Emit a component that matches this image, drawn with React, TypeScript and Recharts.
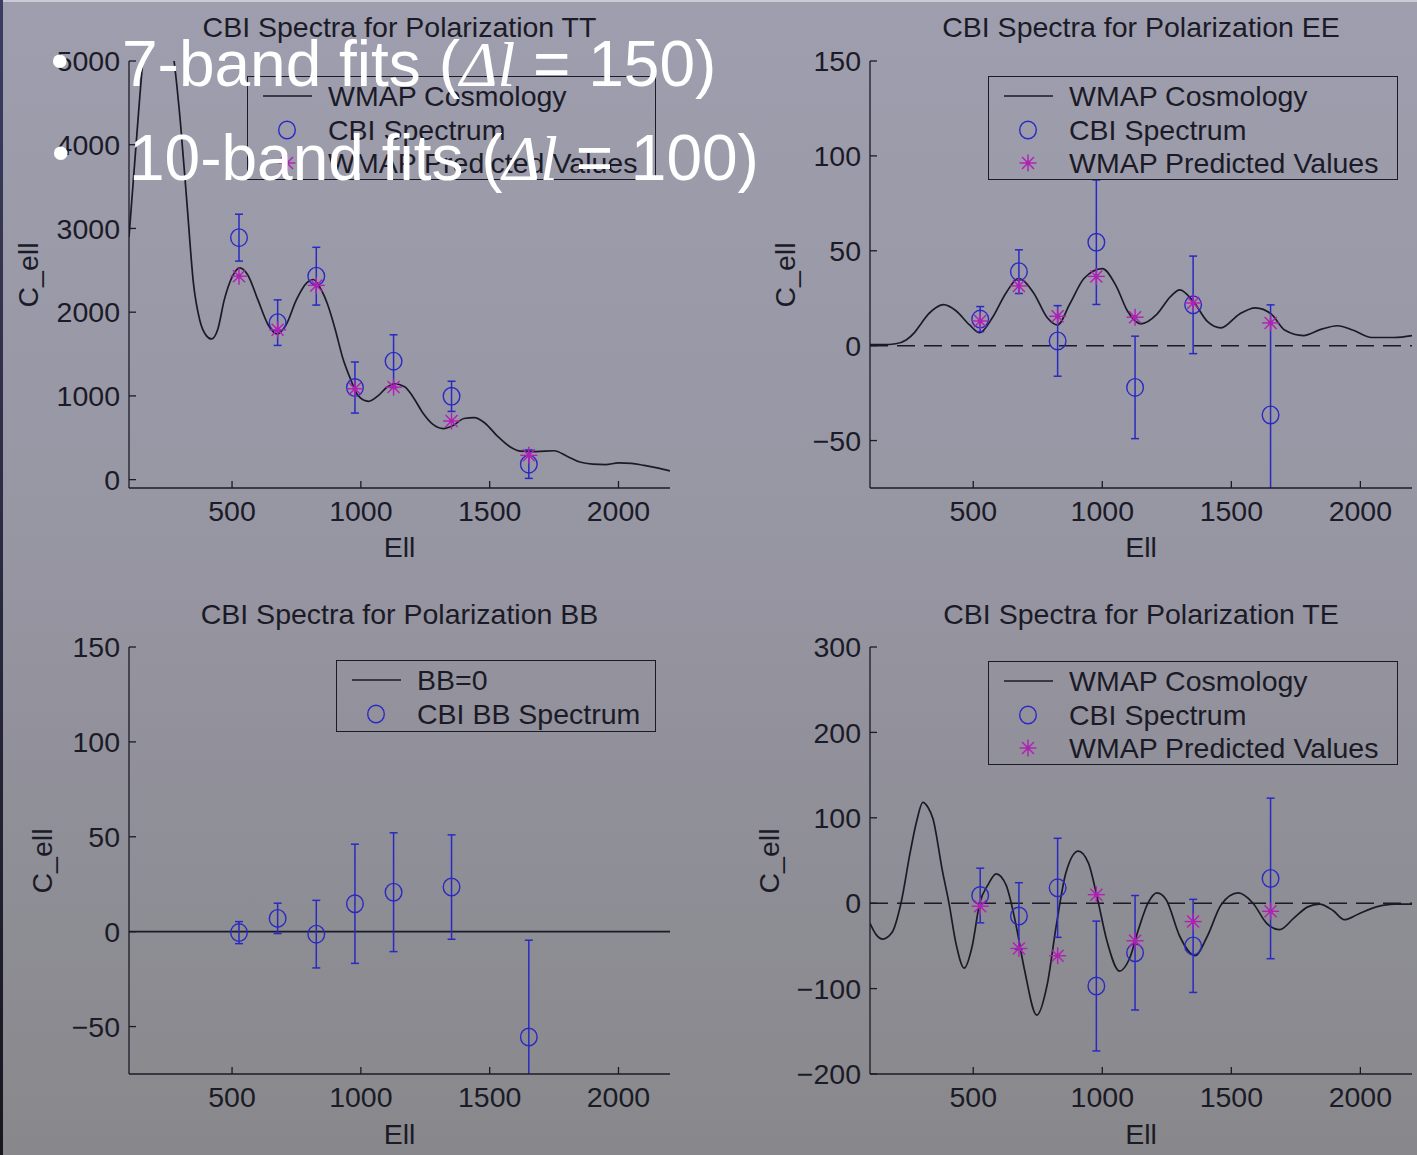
import React from "react";
import {
  ComposedChart,
  Line,
  Scatter,
  XAxis,
  YAxis,
  ErrorBar,
  ReferenceLine,
} from "recharts";

// band centres (7-band fits)
const ELL_BANDS = [527, 677, 827, 977, 1127, 1352, 1652];
const ELL_TICKS = [500, 1000, 1500, 2000];
const ELL_DOMAIN = [100, 2200];

// TT
const TT_CBI = [2890, 1875, 2430, 1100, 1415, 995, 185];
const TT_SIGMA = [280, 272, 345, 305, 315, 180, 170];
const TT_WMAP = [2430, 1790, 2320, 1085, 1105, 700, 290];
const TT_MODEL_ELL = [
  100, 120, 140, 160, 190, 220, 250, 275, 300, 325, 350, 375, 400, 420, 445,
  470, 500, 530, 560, 600, 640, 675, 710, 750, 790, 815, 840, 870, 900, 930,
  960, 990, 1030, 1070, 1100, 1130, 1170, 1200, 1240, 1280, 1320, 1360, 1400,
  1440, 1480, 1530, 1580, 1620, 1680, 1750, 1800, 1850, 1900, 1950, 2000, 2050,
  2100, 2150, 2200,
];
const TT_MODEL = [
  2900, 3700, 4500, 5200, 5600, 5750, 5500, 5000, 4250, 3300, 2350, 1900, 1720,
  1680, 1800, 2150, 2420, 2530, 2450, 2150, 1850, 1740, 1850, 2150, 2350, 2390,
  2300, 2100, 1800, 1450, 1200, 1000, 935, 1010, 1100, 1145, 1110, 1000, 800,
  660, 610, 650, 730, 740, 680, 520, 390, 340, 335, 345, 280, 210, 185, 180,
  200, 195, 170, 140, 105,
];
const TT_TICKS = [0, 1000, 2000, 3000, 4000, 5000];

// EE
const EE_CBI = [14, 39, 2.5, 54.5, -22, 21.5, -36.5];
const EE_SIGMA = [6.6, 11.5, 18.6, 32.8, 27, 25.7, 58];
const EE_WMAP = [13, 31.5, 15.5, 36.5, 15, 22.5, 12];
const EE_MODEL_ELL = [
  100, 150, 200, 240, 273, 300, 326, 355, 385, 433, 486, 525, 574, 627, 675,
  734, 787, 826, 875, 929, 1000, 1053, 1097, 1150, 1212, 1265, 1300, 1354, 1407,
  1460, 1531, 1593, 1655, 1708, 1779, 1850, 1911, 1973, 2044, 2132, 2200,
];
const EE_MODEL = [
  0.5, 0.5, 1, 3, 7, 12, 16.6, 20, 21.6, 18.4, 10.9, 6.8, 14.7, 27.8, 35.4,
  27.8, 14.7, 10.9, 22.2, 35.4, 40.6, 31.6, 18.4, 11.5, 16.6, 26, 29.4, 23.1,
  12.8, 9.4, 16.6, 19.9, 16.6, 8.1, 5.3, 8.7, 10.5, 8.1, 4.3, 4.3, 5.3,
];
const POL_TICKS = [-50, 0, 50, 100, 150];

// BB
const BB_CBI = [-0.5, 7, -1.3, 14.7, 20.8, 23.5, -55.5];
const BB_SIGMA = [5.8, 8, 17.8, 31.4, 31.3, 27.5, 51];
const BB_ZERO_ELL = [100, 2200];
const BB_ZERO = [0, 0];

// TE
const TE_CBI = [9, -15, 18, -97, -58, -50, 29];
const TE_SIGMA = [32, 39, 58, 76, 67, 54.5, 94];
const TE_WMAP = [-3.5, -53, -61.5, 10, -44, -21.5, -9.5];
const TE_MODEL_ELL = [
  100, 123, 149, 185, 220, 256, 280, 305, 325, 344, 380, 406, 433, 465, 495,
  525, 557, 589, 627, 663, 698, 746, 787, 822, 858, 907, 946, 982, 1017, 1067,
  1106, 1141, 1177, 1212, 1247, 1300, 1359, 1407, 1460, 1527, 1584, 1637, 1687,
  1743, 1796, 1841, 1894, 1938, 1991, 2062, 2132, 2200,
];
const TE_MODEL = [
  -23.6, -36.5, -42, -34.4, 0, 60, 95, 118, 112, 99, 38.7, 0, -47, -76, -51.6,
  0, 21.5, 34.4, 21.5, -21.5, -77, -131, -94.6, -25.8, 34.4, 61, 47.3, 4.3, -43,
  -79.5, -64.5, -30, 0, 12, 4.3, -38.7, -61.5, -38.7, -2, 12, 0, -23.6, -31,
  -17.2, -4.3, -1, -8.6, -19.3, -12.9, -4.3, -1, -1,
];
const TE_TICKS = [-200, -100, 0, 100, 200, 300];

const BLUE = "#2a2ac2";
const MAGENTA = "#b020b4";
const INK = "#1b1b27";
const FONT = '"Liberation Sans", Arial, Helvetica, sans-serif';
const FS = 28.5;

const PAD_L = 100;
const PAD_T = 20;

const pts = (xs: number[], ys: number[], sig?: number[]) =>
  xs.map((ell, i) => ({ ell, v: ys[i], sigma: sig ? sig[i] : 0 }));

const fmt = (v: number) => String(v).replace("-", "\u2212");

const CircleMark = (p: any) => (
  <ellipse cx={p.cx} cy={p.cy} rx={8.3} ry={8.8} fill="none" stroke={BLUE} strokeWidth={1.4} />
);

const StarMark = (p: any) => {
  const r = 8.5;
  const d = 6;
  return (
    <g stroke={MAGENTA} strokeWidth={1.4}>
      <line x1={p.cx - r} y1={p.cy} x2={p.cx + r} y2={p.cy} />
      <line x1={p.cx} y1={p.cy - r} x2={p.cx} y2={p.cy + r} />
      <line x1={p.cx - d} y1={p.cy - d} x2={p.cx + d} y2={p.cy + d} />
      <line x1={p.cx - d} y1={p.cy + d} x2={p.cx + d} y2={p.cy - d} />
      <circle cx={p.cx} cy={p.cy} r={2.4} fill={MAGENTA} stroke="none" />
    </g>
  );
};

const YTick = (p: any) => (
  <text x={p.x} y={p.payload.coordinate} dy="0.36em" textAnchor="end" fill={INK} fontSize={FS} fontFamily={FONT}>
    {fmt(p.payload.value)}
  </text>
);

const XTick = (p: any) => (
  <text x={p.payload.coordinate} y={p.y} dy="0.75em" textAnchor="middle" fill={INK} fontSize={FS} fontFamily={FONT}>
    {p.payload.value}
  </text>
);

type Box = { l: number; t: number; r: number; b: number };

interface PanelProps {
  id: string;
  box: Box;
  yDomain: number[];
  yTicks: number[];
  model?: { ell: number; v: number }[];
  cbi: { ell: number; v: number; sigma: number }[];
  wmap?: { ell: number; v: number }[];
  zero?: "dashed";
}

function Panel({ id, box, yDomain, yTicks, model, cbi, wmap, zero }: PanelProps) {
  const w = box.r - box.l + PAD_L + 10;
  const h = box.b - box.t + PAD_T + 60;
  const axisLine = { stroke: INK, strokeWidth: 1.3 };
  return (
    <div className={`panel-${id}`} style={{ position: "absolute", left: box.l - PAD_L, top: box.t - PAD_T }}>
      <svg width={0} height={0} style={{ position: "absolute" }}>
        <defs>
          <clipPath id={`eb-${id}`} clipPathUnits="userSpaceOnUse">
            <rect x={PAD_L} y={PAD_T} width={box.r - box.l} height={box.b - box.t} />
          </clipPath>
        </defs>
      </svg>
      <style>{`.panel-${id} .recharts-errorBars, .panel-${id} .recharts-errorBar { clip-path: url(#eb-${id}); }`}</style>
      <ComposedChart width={w} height={h} margin={{ top: PAD_T, right: 10, bottom: 10, left: 10 }}>
        <XAxis
          xAxisId="b"
          dataKey="ell"
          type="number"
          domain={ELL_DOMAIN}
          ticks={ELL_TICKS}
          allowDataOverflow
          height={50}
          axisLine={axisLine}
          tickLine={axisLine}
          tickSize={-7}
          tickMargin={19}
          tick={<XTick />}
        />
        <XAxis
          xAxisId="t"
          orientation="top"
          type="number"
          domain={ELL_DOMAIN}
          ticks={ELL_TICKS}
          allowDataOverflow
          height={0}
          axisLine={axisLine}
          tickLine={axisLine}
          tickSize={-7}
          tickFormatter={() => ""}
        />
        <YAxis
          yAxisId="l"
          dataKey="v"
          type="number"
          domain={yDomain}
          ticks={yTicks}
          allowDataOverflow
          width={90}
          axisLine={axisLine}
          tickLine={axisLine}
          tickSize={-7}
          tickMargin={16}
          tick={<YTick />}
        />
        <YAxis
          yAxisId="r"
          orientation="right"
          type="number"
          domain={yDomain}
          ticks={yTicks}
          allowDataOverflow
          width={0}
          axisLine={axisLine}
          tickLine={axisLine}
          tickSize={-7}
          tickFormatter={() => ""}
        />
        {zero === "dashed" && (
          <ReferenceLine xAxisId="b" yAxisId="l" y={0} stroke={INK} strokeWidth={1.5} strokeDasharray="18 9" />
        )}
        {model && (
          <Line
            xAxisId="b"
            yAxisId="l"
            data={model}
            dataKey="v"
            type="monotone"
            stroke={INK}
            strokeWidth={1.7}
            dot={false}
            isAnimationActive={false}
          />
        )}
        <Scatter xAxisId="b" yAxisId="l" data={cbi} dataKey="v" shape={CircleMark} isAnimationActive={false}>
          <ErrorBar
            dataKey="sigma"
            direction="y"
            width={4}
            stroke={BLUE}
            strokeWidth={1.5}
            clipPath={`url(#eb-${id})`}
          />
        </Scatter>
        {wmap && (
          <Scatter xAxisId="b" yAxisId="l" data={wmap} dataKey="v" shape={StarMark} isAnimationActive={false} />
        )}
      </ComposedChart>
    </div>
  );
}

const txt: React.CSSProperties = {
  position: "absolute",
  color: INK,
  fontFamily: FONT,
  fontSize: FS,
  lineHeight: 1,
  whiteSpace: "nowrap",
};

function Labels({ box, title, titleY, xLabY, yLabX }: { box: Box; title: string; titleY: number; xLabY: number; yLabX: number }) {
  const cx = (box.l + box.r) / 2;
  const cy = (box.t + box.b) / 2;
  return (
    <>
      <div style={{ ...txt, left: cx, top: titleY, transform: "translate(-50%,-50%)" }}>{title}</div>
      <div style={{ ...txt, left: cx, top: xLabY, transform: "translate(-50%,-50%)" }}>Ell</div>
      <div style={{ ...txt, left: yLabX, top: cy, transform: "translate(-50%,-50%) rotate(-90deg)" }}>C_ell</div>
    </>
  );
}

type LegendItem = { kind: "line" | "circle" | "star"; label: string };

function LegendBox({ l, t, w, h, items }: { l: number; t: number; w: number; h: number; items: LegendItem[] }) {
  return (
    <div
      style={{
        position: "absolute",
        left: l,
        top: t,
        width: w,
        height: h,
        border: `1.3px solid ${INK}`,
        boxSizing: "border-box",
      }}
    >
      {items.map((it, i) => (
        <div key={it.label} style={{ position: "absolute", left: 0, top: 19 + i * 33.5, width: w }}>
          <svg width={70} height={24} style={{ position: "absolute", left: 4, top: -12 }}>
            {it.kind === "line" && <line x1={11} y1={12} x2={60} y2={12} stroke={INK} strokeWidth={1.4} />}
            {it.kind === "circle" && <CircleMark cx={35} cy={12} />}
            {it.kind === "star" && <StarMark cx={35} cy={12} />}
          </svg>
          <div style={{ ...txt, left: 80, top: 0, transform: "translateY(-50%)" }}>{it.label}</div>
        </div>
      ))}
    </div>
  );
}

const WMAP_ITEMS: LegendItem[] = [
  { kind: "line", label: "WMAP Cosmology" },
  { kind: "circle", label: "CBI Spectrum" },
  { kind: "star", label: "WMAP Predicted Values" },
];
const BB_ITEMS: LegendItem[] = [
  { kind: "line", label: "BB=0" },
  { kind: "circle", label: "CBI BB Spectrum" },
];

const BOX_TT: Box = { l: 129, t: 61, r: 670, b: 488 };
const BOX_EE: Box = { l: 870, t: 61, r: 1412, b: 488 };
const BOX_BB: Box = { l: 129, t: 647, r: 670, b: 1074 };
const BOX_TE: Box = { l: 870, t: 647, r: 1412, b: 1074 };

const overlay: React.CSSProperties = {
  position: "absolute",
  color: "#ffffff",
  fontFamily: FONT,
  fontSize: 64,
  lineHeight: 1,
  whiteSpace: "nowrap",
};
const mathStyle: React.CSSProperties = {
  fontFamily: '"Liberation Serif", "Times New Roman", serif',
  fontStyle: "italic",
};

export default function App() {
  return (
    <div
      style={{
        position: "absolute",
        left: 0,
        top: 0,
        width: 1417,
        height: 1155,
        overflow: "hidden",
        background: "linear-gradient(to bottom, #9f9eae 0%, #9796a3 45%, #88888c 100%)",
      }}
    >
      <div style={{ position: "absolute", left: 0, top: 0, width: 1417, height: 2, background: "#c9c9d3" }} />
      <div
        style={{
          position: "absolute",
          left: 0,
          top: 0,
          width: 3,
          height: 1155,
          background: "linear-gradient(to bottom, #3c3c60, #17171f)",
        }}
      />
      <Panel id="tt" box={BOX_TT} yDomain={[-100, 5000]} yTicks={TT_TICKS} model={pts(TT_MODEL_ELL, TT_MODEL)} cbi={pts(ELL_BANDS, TT_CBI, TT_SIGMA)} wmap={pts(ELL_BANDS, TT_WMAP)} />
      <Panel id="ee" box={BOX_EE} yDomain={[-75, 150]} yTicks={POL_TICKS} model={pts(EE_MODEL_ELL, EE_MODEL)} cbi={pts(ELL_BANDS, EE_CBI, EE_SIGMA)} wmap={pts(ELL_BANDS, EE_WMAP)} zero="dashed" />
      <Panel id="bb" box={BOX_BB} yDomain={[-75, 150]} yTicks={POL_TICKS} model={pts(BB_ZERO_ELL, BB_ZERO)} cbi={pts(ELL_BANDS, BB_CBI, BB_SIGMA)} />
      <Panel id="te" box={BOX_TE} yDomain={[-200, 300]} yTicks={TE_TICKS} model={pts(TE_MODEL_ELL, TE_MODEL)} cbi={pts(ELL_BANDS, TE_CBI, TE_SIGMA)} wmap={pts(ELL_BANDS, TE_WMAP)} zero="dashed" />

      <Labels box={BOX_TT} title="CBI Spectra for Polarization TT" titleY={27} xLabY={547} yLabX={28} />
      <Labels box={BOX_EE} title="CBI Spectra for Polarization EE" titleY={27} xLabY={547} yLabX={785} />
      <Labels box={BOX_BB} title="CBI Spectra for Polarization BB" titleY={614} xLabY={1134} yLabX={42} />
      <Labels box={BOX_TE} title="CBI Spectra for Polarization TE" titleY={614} xLabY={1134} yLabX={769} />

      <LegendBox l={247} t={76} w={409} h={104} items={WMAP_ITEMS} />
      <LegendBox l={988} t={76} w={410} h={104} items={WMAP_ITEMS} />
      <LegendBox l={336} t={660} w={320} h={72} items={BB_ITEMS} />
      <LegendBox l={988} t={661} w={410} h={104} items={WMAP_ITEMS} />

      <div style={{ ...overlay, left: 51, top: 36, fontSize: 50 }}>•</div>
      <div style={{ ...overlay, left: 122, top: 32 }}>
        7-band fits (<span style={mathStyle}>Δl</span> = 150)
      </div>
      <div style={{ ...overlay, left: 52, top: 128, fontSize: 50 }}>•</div>
      <div style={{ ...overlay, left: 129, top: 126 }}>
        10-band fits (<span style={mathStyle}>Δl</span> = 100)
      </div>
    </div>
  );
}
